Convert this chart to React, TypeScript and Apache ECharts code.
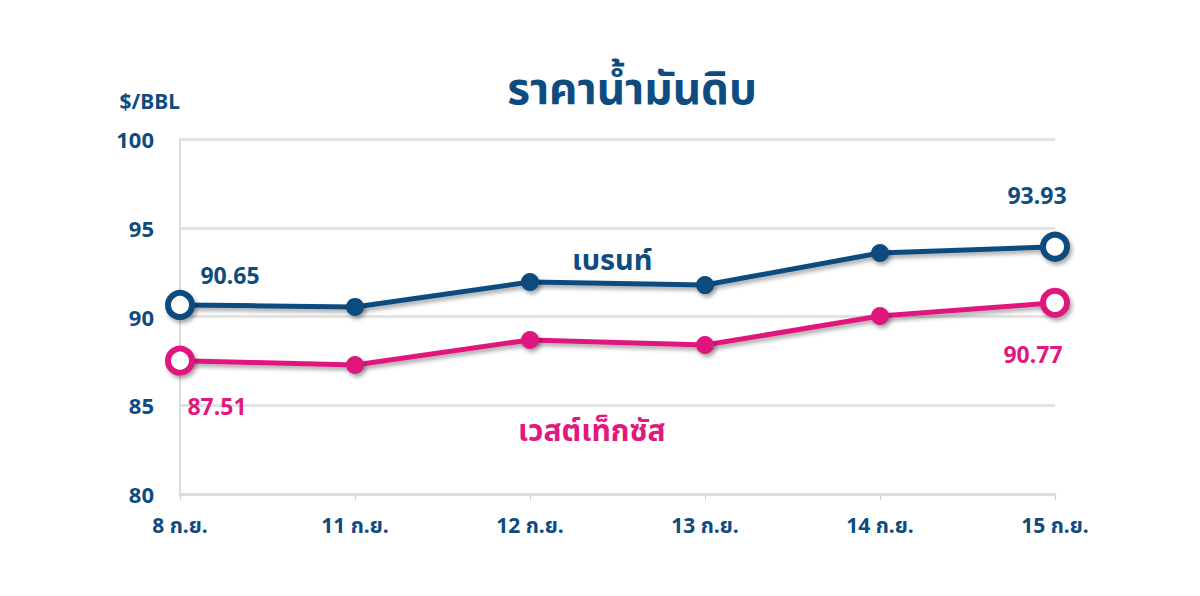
import React, { useEffect, useRef } from "react";
import * as echarts from "echarts";

const categories = ["8 ก.ย.", "11 ก.ย.", "12 ก.ย.", "13 ก.ย.", "14 ก.ย.", "15 ก.ย."];
const brentValues = [90.65, 90.54, 91.94, 91.77, 93.58, 93.93];
const wtiValues = [87.51, 87.27, 88.68, 88.39, 90.03, 90.77];
const yTicks = [80, 85, 90, 95, 100];

const BLUE = "#0e4b7f";
const PINK = "#e0187f";
const FONT = "'Noto Sans', 'Noto Sans Thai', sans-serif";

// label offsets for the first / last points of each series
const brentOffsets = [[50, 2], [-18, -20]];
const wtiOffsets = [[37, 14], [-22, 20]];

const buildData = (values: number[], color: string, pos: string, offsets: number[][]) =>
  values.map((v, i) => {
    const isEnd = i === 0 || i === values.length - 1;
    if (!isEnd) return { value: v };
    return {
      value: v,
      symbolSize: 24,
      itemStyle: { color: "#ffffff", borderColor: color, borderWidth: 6 },
      label: {
        show: true,
        position: pos,
        offset: i === 0 ? offsets[0] : offsets[1],
        formatter: v.toFixed(2),
        color,
        fontSize: 23,
        fontWeight: "bold",
        fontFamily: FONT,
      },
    };
  });

const App: React.FC = () => {
  const chartRef = useRef<HTMLDivElement>(null);

  useEffect(() => {
    document.body.style.margin = "0";
    if (!chartRef.current) return;
    const chart = echarts.init(chartRef.current, undefined, { renderer: "svg" });

    const lineShadow = {
      shadowColor: "rgba(0,0,0,0.35)",
      shadowBlur: 4,
      shadowOffsetX: 2,
      shadowOffsetY: 3,
    };

    const option: echarts.EChartsOption = {
      animation: false,
      backgroundColor: "#ffffff",
      title: {
        text: "ราคาน้ำมันดิบ",
        left: 627,
        top: 60,
        textAlign: "center",
        textStyle: { color: BLUE, fontSize: 44, fontWeight: "bold", fontFamily: FONT },
      },
      grid: { left: 180, right: 145, top: 139, bottom: 102 },
      xAxis: {
        type: "category",
        data: categories,
        boundaryGap: false,
        axisLine: { lineStyle: { color: "#dcdcdc", width: 3 } },
        axisTick: { show: true, length: 6, lineStyle: { color: "#cfcfcf", width: 1 } },
        axisLabel: {
          color: BLUE,
          fontSize: 21,
          fontWeight: "bold",
          fontFamily: FONT,
          margin: 20,
        },
        splitLine: { show: false },
      },
      yAxis: {
        type: "value",
        min: yTicks[0],
        max: yTicks[yTicks.length - 1],
        interval: 5,
        name: "$/BBL",
        nameLocation: "end",
        nameGap: 28,
        nameTextStyle: {
          color: BLUE,
          fontSize: 21,
          fontWeight: "bold",
          fontFamily: FONT,
          align: "right",
          padding: [0, 0, 0, 0],
        },
        axisLine: { show: true, lineStyle: { color: "#dcdcdc", width: 2 } },
        axisTick: { show: false },
        axisLabel: {
          color: BLUE,
          fontSize: 22,
          fontWeight: "bold",
          fontFamily: FONT,
          margin: 26,
        },
        splitLine: { lineStyle: { color: "#e3e3e3", width: 3 } },
      },
      series: [
        {
          name: "เบรนท์",
          type: "line",
          data: buildData(brentValues, BLUE, "top", brentOffsets) as any,
          symbol: "circle",
          symbolSize: 18,
          lineStyle: { color: BLUE, width: 5, ...lineShadow },
          itemStyle: { color: BLUE, ...lineShadow },
          z: 3,
        },
        {
          name: "เวสต์เท็กซัส",
          type: "line",
          data: buildData(wtiValues, PINK, "bottom", wtiOffsets) as any,
          symbol: "circle",
          symbolSize: 18,
          lineStyle: { color: PINK, width: 5, ...lineShadow },
          itemStyle: { color: PINK, ...lineShadow },
          z: 2,
        },
      ],
      graphic: [
        {
          type: "text",
          left: 572,
          top: 244,
          style: {
            text: "เบรนท์",
            fill: BLUE,
            font: `bold 29px ${FONT}`,
          },
        },
        {
          type: "text",
          left: 518,
          top: 414,
          style: {
            text: "เวสต์เท็กซัส",
            fill: PINK,
            font: `bold 30px ${FONT}`,
          },
        },
      ],
    };

    chart.setOption(option);
    return () => {
      chart.dispose();
    };
  }, []);

  return <div ref={chartRef} style={{ width: 1200, height: 596 }} />;
};

export default App;
